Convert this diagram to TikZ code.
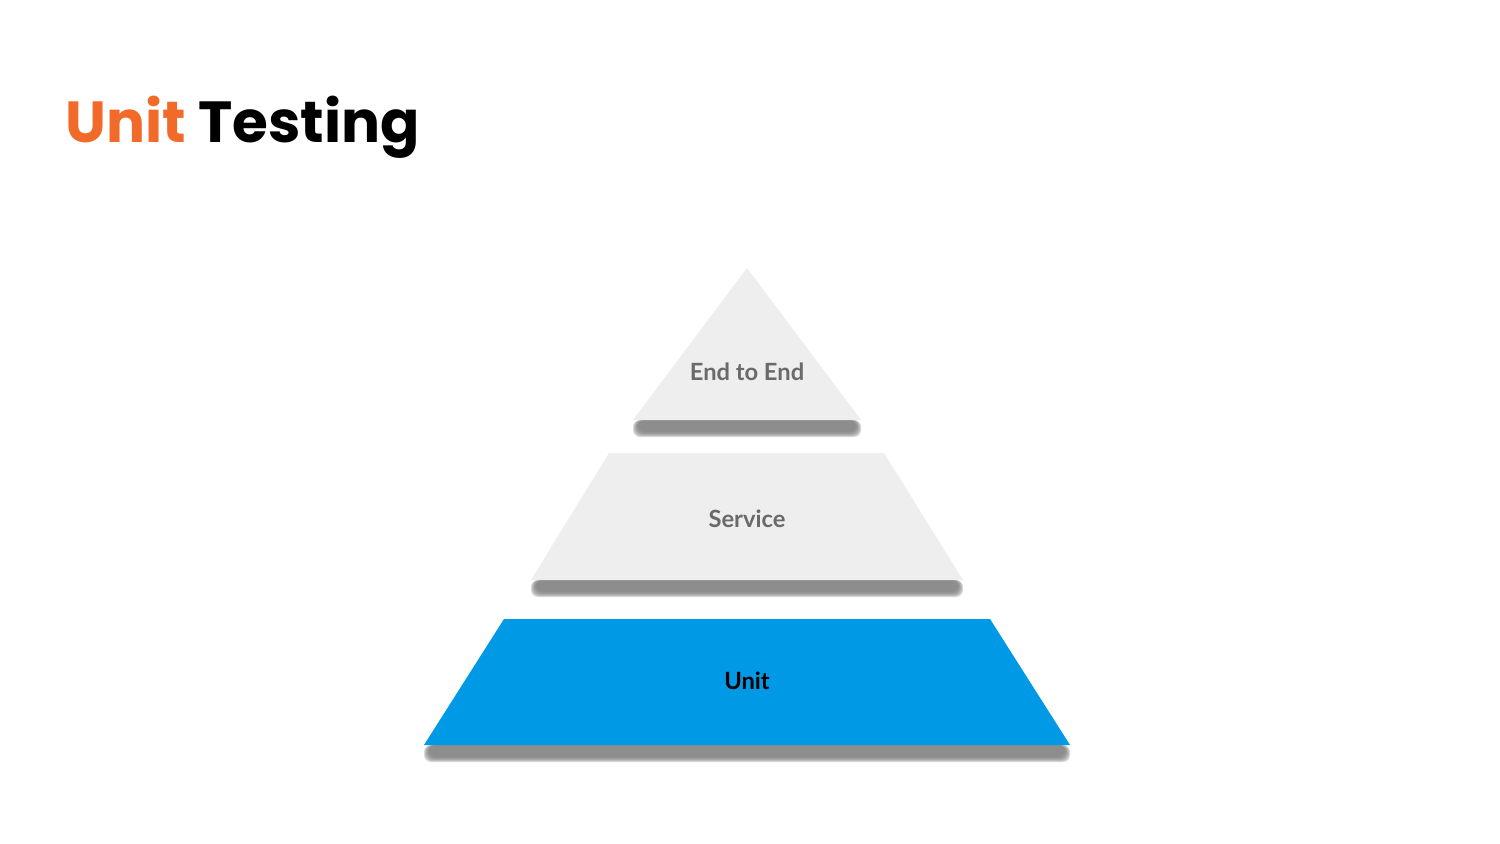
\documentclass[tikz,border=0pt]{standalone}
\usepackage{fontspec}
\setmainfont{Lato}
\newfontfamily\titlefont{Poppins}
\definecolor{accent}{HTML}{F26A2A}
\definecolor{levelgray}{HTML}{EEEEEE}
\definecolor{levelblue}{HTML}{0099E5}
\definecolor{labelgray}{HTML}{6A6A6A}
\definecolor{shadowgray}{HTML}{808080}
\tikzset{
  level label/.style={font=\fontsize{13.5}{16}\selectfont\bfseries,inner sep=0pt},
  level shadow/.style={fill=shadowgray},
}
% blurred shadow strip under a level: left x, right x, top y
\newcommand{\levelshadow}[3]{
  \foreach \k in {5,4,3,2,1,0}
    \fill[level shadow,opacity=0.3,rounded corners=4] (#1+5-\k,#3) rectangle (#2-5+\k,#3+12+\k);
}
\begin{document}
\begin{tikzpicture}[x=0.02cm,y=-0.02cm]
\useasboundingbox (0,0) rectangle (1500,844);
\fill[white] (0,0) rectangle (1500,844);
% title
\node[anchor=base west,inner sep=0pt,font=\titlefont\fontsize{33}{36}\selectfont\bfseries] (title) at (65,143) {\textcolor{accent}{Unit} Testing};
% shadows
\levelshadow{633}{861}{420}
\levelshadow{531}{963}{580}
\levelshadow{424}{1070}{745}
% levels
\fill[levelgray] (747,268) -- (861,420) -- (633,420) -- cycle;
\fill[levelgray] (609,453) -- (884,453) -- (963,580) -- (531,580) -- cycle;
\fill[levelblue] (504,619) -- (990,619) -- (1070,745) -- (424,745) -- cycle;
% labels
\node[level label,text=labelgray] (e2e) at (747,372) {End to End};
\node[level label,text=labelgray] (service) at (747,519) {Service};
\node[level label,text=black] (unit) at (747,681) {Unit};
\end{tikzpicture}
\end{document}
